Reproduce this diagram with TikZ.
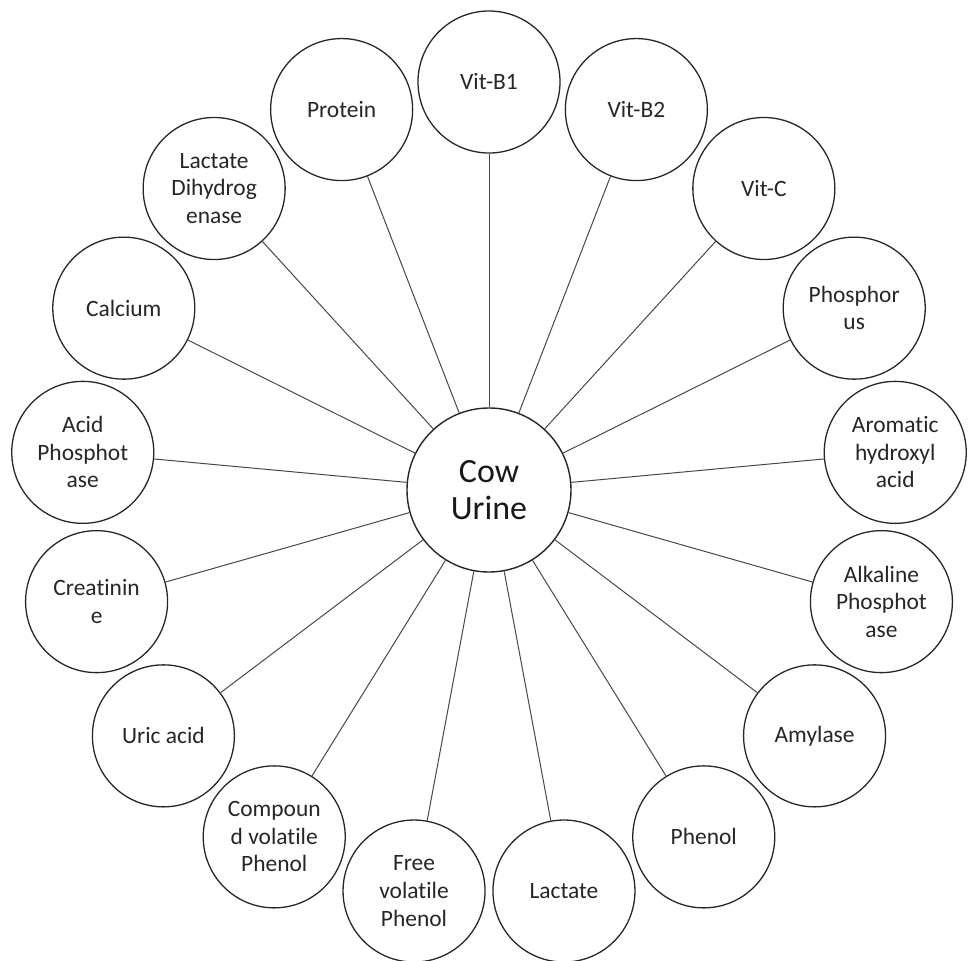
\documentclass[tikz,border=0pt]{standalone}
\usepackage{fontspec}
\setmainfont{Carlito}[Ligatures=NoCommon]
\usetikzlibrary{calc}
\begin{document}
\begin{tikzpicture}[x=0.03cm,y=-0.03cm,
  item/.style={circle,draw=black!85,line width=1.1pt,fill=white,minimum size=4.26cm,
    inner sep=0pt,align=center,text=black!85,font=\fontsize{20}{23.5}\selectfont},
  hub/.style={circle,draw=black!85,line width=1.2pt,fill=white,minimum size=4.92cm,
    inner sep=0pt,align=center,text=black!90,font=\fontsize{29}{32}\selectfont},
  link/.style={draw=black!72,line width=0.85pt}]
\useasboundingbox (0,0) rectangle (968,961);
\node[hub] (cow) at (489,490) {Cow\\Urine};
% seventeen constituents, evenly spaced clockwise from the top
\foreach \lab [count=\k from 0] in {
  {Vit-B1},{Vit-B2},{Vit-C},{Phosphor\\us},{Aromatic\\hydroxyl\\acid},
  {Alkaline\\Phosphot\\ase},{Amylase},{Phenol},{Lactate},{Free\\volatile\\Phenol},
  {Compoun\\d volatile\\Phenol},{Uric acid},{Creatinin\\e},{Acid\\Phosphot\\ase},
  {Calcium},{Lactate\\Dihydrog\\enase},{Protein}}{
  \node[item] (n\k) at ($(cow.center)+({-90+\k*360/17}:408)$) {\lab};
  \draw[link] (cow) -- (n\k);
}
\end{tikzpicture}
\end{document}
